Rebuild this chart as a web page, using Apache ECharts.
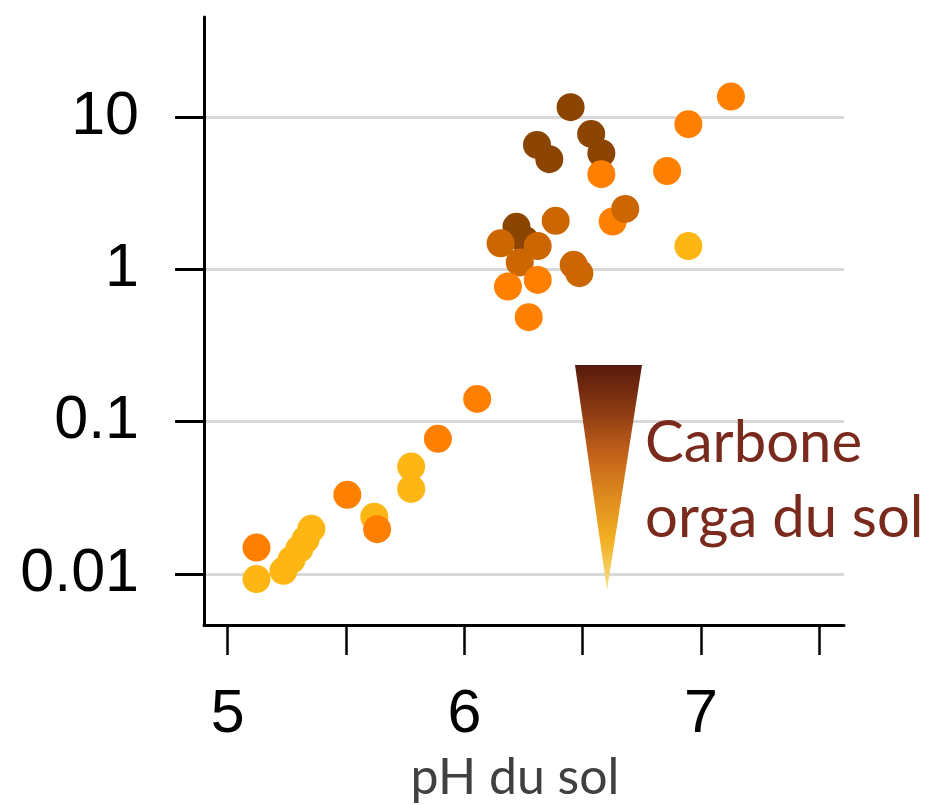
<!DOCTYPE html>
<html><head><meta charset="utf-8">
<script src="https://cdn.jsdelivr.net/npm/echarts@6/dist/echarts.min.js"></script>
<style>html,body{margin:0;padding:0;background:#fff}#c{width:930px;height:805px}</style>
</head><body><div id="c"></div>
<script>
// pH du sol (x) and carbon values (y, log scale); class = carbon level colour
const phValues = [
  6.946, 5.774, 5.774, 5.618, 5.120, 5.234, 5.268, 5.301, 5.327, 5.352,
  6.448, 6.535, 6.578, 6.306, 6.358, 6.219, 6.254,
  6.626,
  6.679, 6.385, 6.152, 6.309, 6.233, 6.461, 6.485,
  7.126, 6.946, 6.578, 6.856, 6.183, 6.309, 6.271, 6.053, 5.887, 5.504, 5.630, 5.120
];
const yValues = [
  1.42, 0.0507, 0.0362, 0.0238, 0.00926, 0.0105, 0.0124, 0.0146, 0.0168, 0.0198,
  11.6, 7.74, 5.78, 6.55, 5.28, 1.90, 1.56,
  2.06,
  2.49, 2.08, 1.48, 1.42, 1.11, 1.07, 0.943,
  13.6, 8.96, 4.21, 4.42, 0.77, 0.852, 0.485, 0.141, 0.0771, 0.0331, 0.0197, 0.0149
];
const carbonClass = [
  0, 0, 0, 0, 0, 0, 0, 0, 0, 0,
  3, 3, 3, 3, 3, 3, 3,
  1,
  2, 2, 2, 2, 2, 2, 2,
  1, 1, 1, 1, 1, 1, 1, 1, 1, 1, 1, 1
];
const classColors = ['#FDB614', '#FF8000', '#CC6600', '#8B4500'];
const yTickValues = [0.01, 0.1, 1, 10];
const xTickLabels = ['5', '6', '7'];
const xAxisTitle = 'pH du sol';
const legendLines = ['Carbone', 'orga du sol'];

const points = phValues.map((x, i) => ({
  value: [x, yValues[i]],
  itemStyle: { color: classColors[carbonClass[i]], opacity: 1 }
}));

const tickFont = "'Liberation Sans', Arial, sans-serif";
const textFont = "Lato, 'Noto Sans', sans-serif";

const chart = echarts.init(document.getElementById('c'), null, { renderer: 'canvas' });
chart.setOption({
  animation: false,
  backgroundColor: '#fff',
  grid: [
    { left: 204, right: 86, top: 17, bottom: 180 },
    { left: 205, right: 86, top: 117, bottom: 231 },
    { left: 227.7, right: 110.7, top: 17, bottom: 180 }
  ],
  xAxis: [
    { gridIndex: 0, type: 'value', min: 4.898, max: 7.604,
      axisLine: { show: true, onZero: false, lineStyle: { color: '#000', width: 3 } },
      axisTick: { show: false }, axisLabel: { show: false }, splitLine: { show: false } },
    { gridIndex: 1, type: 'value', min: 0, max: 1, show: false },
    { gridIndex: 2, type: 'value', min: 5, max: 7.5, interval: 0.5,
      axisLine: { show: false, onZero: false },
      axisTick: { show: true, length: 30, lineStyle: { color: '#000', width: 2.5 } },
      axisLabel: { show: true, margin: 60, fontSize: 61, fontFamily: tickFont, color: '#000',
        showMinLabel: true, showMaxLabel: true,
        formatter: v => { const s = String(Math.round(v * 10) / 10); return xTickLabels.includes(s) ? s : ''; } },
      splitLine: { show: false } }
  ],
  yAxis: [
    { gridIndex: 0, type: 'log', logBase: 10, min: 0.004627, max: 45.3,
      axisLine: { show: true, onZero: false, lineStyle: { color: '#000', width: 3 } },
      axisTick: { show: false }, axisLabel: { show: false }, splitLine: { show: false } },
    { gridIndex: 1, type: 'log', logBase: 10, min: 0.01, max: 10,
      axisLine: { show: false },
      axisTick: { show: true, length: 30, lineStyle: { color: '#000', width: 3 } },
      axisLabel: { show: true, margin: 66, fontSize: 61, fontFamily: tickFont, color: '#000',
        showMinLabel: true, showMaxLabel: true,
        formatter: v => { const t = yTickValues.find(t => Math.abs(Math.log10(t) - Math.log10(v)) < 1e-6); return t !== undefined ? String(t) : ''; } },
      splitLine: { show: true, lineStyle: { color: '#d9d9d9', width: 3 } } },
    { gridIndex: 2, type: 'value', min: 0, max: 1, show: false }
  ],
  series: [{
    type: 'scatter', xAxisIndex: 0, yAxisIndex: 0,
    symbol: 'circle', symbolSize: 28,
    itemStyle: { opacity: 1 },
    data: points,
    z: 5
  }],
  graphic: [
    { type: 'polygon', z: 10,
      shape: { points: [[575, 365], [642, 365], [607, 590]] },
      style: { fill: new echarts.graphic.LinearGradient(0, 0, 0, 1, [
        { offset: 0, color: '#561a0c' },
        { offset: 0.2, color: '#8c3a12' },
        { offset: 0.4, color: '#c4621a' },
        { offset: 0.6, color: '#e08e1e' },
        { offset: 0.78, color: '#f2b022' },
        { offset: 1, color: '#f6e08a' }
      ]) } },
    { type: 'text', z: 10, style: { text: legendLines[0], x: 645, y: 443, font: "58px " + textFont, fill: '#7a2a1c', align: 'left', verticalAlign: 'middle' } },
    { type: 'text', z: 10, style: { text: legendLines[1], x: 645, y: 518, font: "58px " + textFont, fill: '#7a2a1c', align: 'left', verticalAlign: 'middle' } },
    { type: 'text', z: 10, style: { text: xAxisTitle, x: 515, y: 778, font: "50px " + textFont, fill: '#404040', align: 'center', verticalAlign: 'middle' } }
  ]
});
</script>
</body></html>
